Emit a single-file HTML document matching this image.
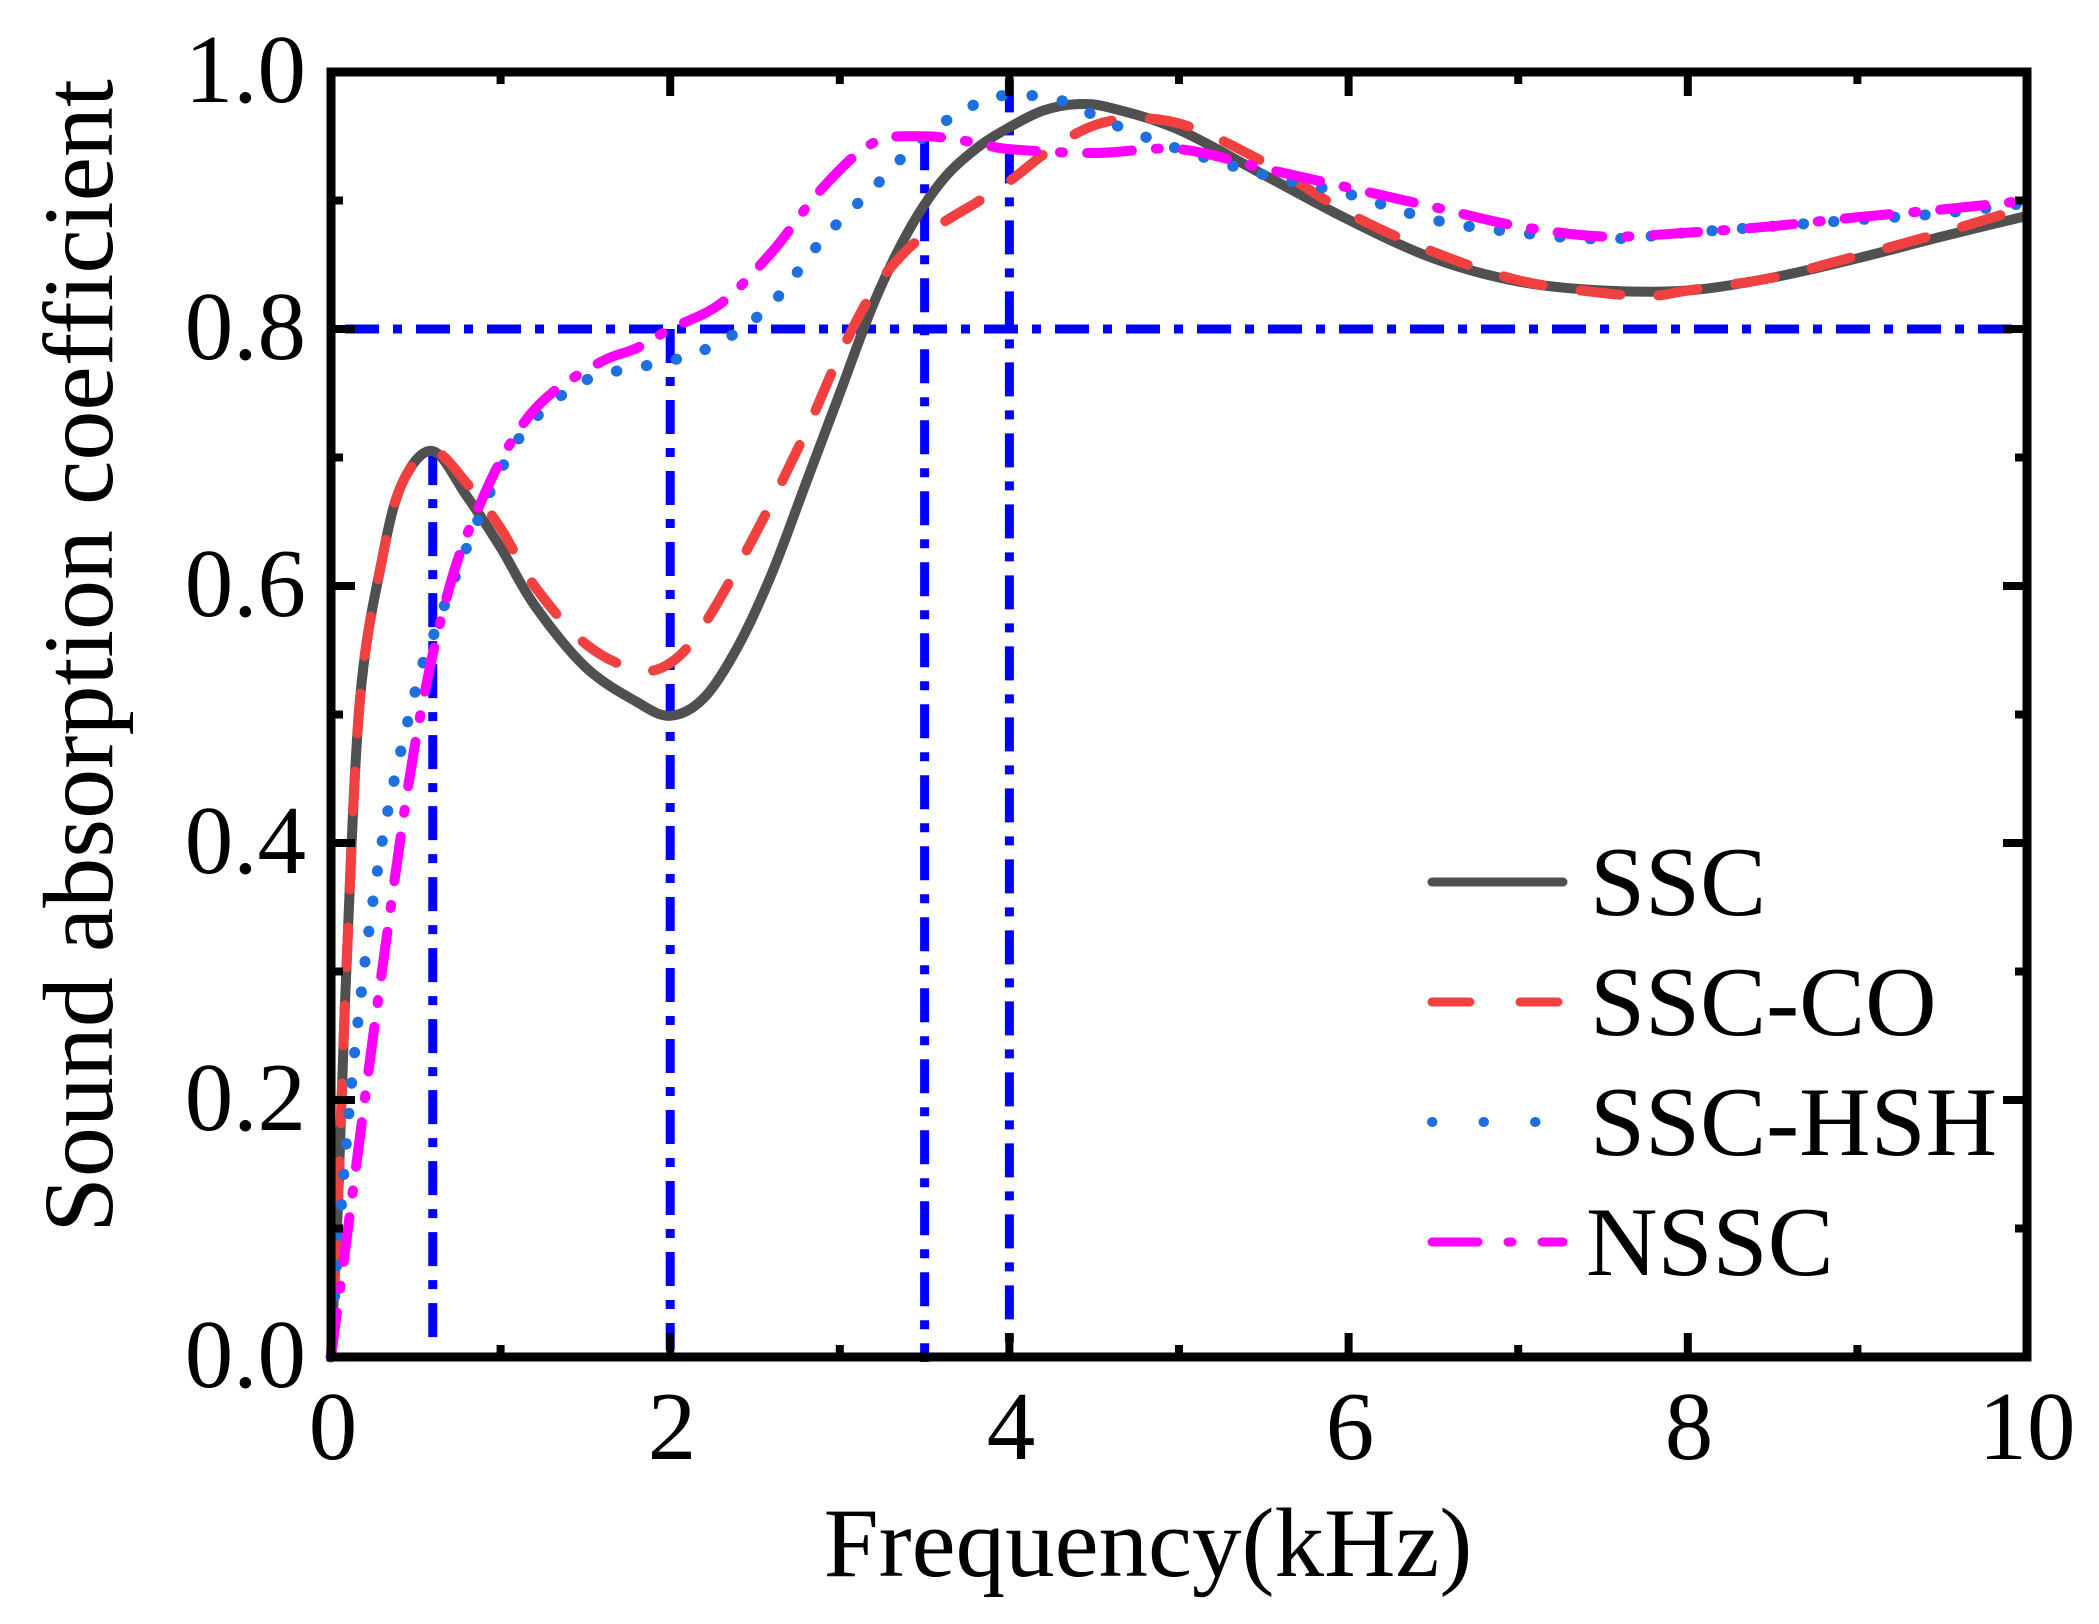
<!DOCTYPE html>
<html><head><meta charset="utf-8"><style>
html,body{margin:0;padding:0;background:#fff;}
svg{display:block;}
text{font-family:"Liberation Serif",serif;fill:#000;}
</style></head><body>
<svg id="s" width="2099" height="1624" viewBox="0 0 2099 1624" xmlns="http://www.w3.org/2000/svg">
<g id="plot"></g>
<g id="axes" fill="none" stroke="#000"></g>
<g font-size="97">
<text x="306" y="1387" text-anchor="end">0.0</text>
<text x="306" y="1130" text-anchor="end">0.2</text>
<text x="306" y="873" text-anchor="end">0.4</text>
<text x="306" y="616" text-anchor="end">0.6</text>
<text x="306" y="359" text-anchor="end">0.8</text>
<text x="306" y="102" text-anchor="end">1.0</text>
<text x="333" y="1459" text-anchor="middle">0</text>
<text x="672" y="1459" text-anchor="middle">2</text>
<text x="1011" y="1459" text-anchor="middle">4</text>
<text x="1350" y="1459" text-anchor="middle">6</text>
<text x="1689" y="1459" text-anchor="middle">8</text>
<text x="2027" y="1459" text-anchor="middle">10</text>
</g>
<text x="1148" y="1576" font-size="99" text-anchor="middle">Frequency(kHz)</text>
<text transform="translate(112,656) rotate(-90)" font-size="100" text-anchor="middle">Sound absorption coefficient</text>
<g font-size="99">
<line x1="1432" y1="882" x2="1563" y2="882" stroke="#505050" stroke-width="9" stroke-linecap="round"/>
<text x="1590" y="915">SSC</text>
<line x1="1432" y1="1002" x2="1563" y2="1002" stroke="#F04040" stroke-width="9" stroke-linecap="round" stroke-dasharray="38 50"/>
<text x="1590" y="1035">SSC-CO</text>
<line x1="1432" y1="1122" x2="1563" y2="1122" stroke="#1E6FE0" stroke-width="10" stroke-linecap="round" stroke-dasharray="0.5 51"/>
<text x="1590" y="1155">SSC-HSH</text>
<line x1="1432" y1="1242" x2="1563" y2="1242" stroke="#FF00FF" stroke-width="9" stroke-linecap="round" stroke-dasharray="46 30 4 30"/>
<text x="1586" y="1275">NSSC</text>
</g>
</svg>
<script>
var X0=331,X1=2027,Y0=1357,Y1=72;
function px(f){return X0+(X1-X0)*f/10;}
function py(v){return Y0-(Y0-Y1)*v;}
function path(pts){
  var p=pts.map(function(a){return [px(a[0]),py(a[1])];});
  var d="M"+p[0][0].toFixed(1)+","+p[0][1].toFixed(1);
  for(var i=0;i<p.length-1;i++){
    var p0=p[i-1]||p[i],p1=p[i],p2=p[i+1],p3=p[i+2]||p[i+1];
    var c1=[p1[0]+(p2[0]-p0[0])/6,p1[1]+(p2[1]-p0[1])/6];
    var c2=[p2[0]-(p3[0]-p1[0])/6,p2[1]-(p3[1]-p1[1])/6];
    d+="C"+c1[0].toFixed(1)+","+c1[1].toFixed(1)+" "+c2[0].toFixed(1)+","+c2[1].toFixed(1)+" "+p2[0].toFixed(1)+","+p2[1].toFixed(1);
  }
  return d;
}
var ssc=[[0,0],[0.04,0.115],[0.09,0.3],[0.17,0.51],[0.3,0.62],[0.42,0.68],[0.6,0.705],[0.8,0.67],[1.0,0.63],[1.2,0.585],[1.5,0.537],[1.8,0.51],[2.0,0.499],[2.2,0.513],[2.4,0.553],[2.6,0.61],[2.8,0.68],[3.0,0.75],[3.2,0.82],[3.4,0.875],[3.6,0.915],[3.8,0.94],[4.0,0.957],[4.2,0.97],[4.4,0.975],[4.6,0.972],[5.0,0.955],[5.5,0.92],[6.0,0.885],[6.5,0.855],[7.0,0.837],[7.5,0.83],[8.0,0.83],[8.5,0.84],[9.0,0.855],[9.5,0.872],[10,0.888]];
var co=[[0,0],[0.04,0.115],[0.09,0.3],[0.17,0.51],[0.3,0.62],[0.42,0.68],[0.6,0.705],[0.8,0.68],[1.0,0.645],[1.2,0.6],[1.5,0.555],[1.8,0.535],[2.0,0.54],[2.2,0.57],[2.5,0.64],[2.8,0.72],[3.0,0.78],[3.2,0.83],[3.4,0.862],[3.6,0.882],[3.8,0.898],[4.0,0.915],[4.3,0.945],[4.6,0.962],[5.0,0.96],[5.5,0.93],[6.0,0.89],[6.5,0.86],[7.0,0.838],[7.5,0.828],[7.8,0.826],[8.0,0.83],[8.5,0.84],[9,0.857],[9.5,0.875],[10,0.895]];
var hsh=[[0,0],[0.05,0.1],[0.15,0.25],[0.3,0.4],[0.5,0.52],[0.6,0.56],[0.8,0.63],[1.0,0.69],[1.2,0.73],[1.5,0.76],[1.8,0.77],[2.0,0.775],[2.3,0.79],[2.6,0.82],[2.9,0.87],[3.2,0.91],[3.5,0.95],[3.8,0.975],[4.0,0.982],[4.3,0.978],[4.6,0.96],[5.0,0.94],[5.5,0.92],[6.0,0.905],[6.5,0.885],[7,0.875],[7.5,0.87],[8,0.875],[8.5,0.88],[9,0.885],[9.5,0.89],[10,0.898]];
var ns=[[0,0],[0.1,0.1],[0.3,0.3],[0.5,0.48],[0.7,0.6],[0.9,0.67],[1.1,0.72],[1.3,0.75],[1.6,0.775],[1.8,0.785],[2.0,0.8],[2.3,0.82],[2.6,0.86],[2.9,0.91],[3.2,0.945],[3.5,0.95],[3.8,0.945],[4.0,0.94],[4.5,0.937],[5.0,0.94],[5.5,0.925],[6.0,0.91],[6.5,0.895],[7.0,0.88],[7.5,0.872],[8.0,0.875],[8.5,0.88],[9,0.887],[9.5,0.893],[10,0.9]];
var g=document.getElementById("plot"),h="";
var dd='stroke="#0000FF" stroke-width="9" stroke-dasharray="34 14 9 14" fill="none"';
h+='<line x1="345" y1="'+py(0.8)+'" x2="2024" y2="'+py(0.8)+'" '+dd+'/>';
h+='<line x1="'+px(0.6)+'" y1="'+py(0.705)+'" x2="'+px(0.6)+'" y2="1350" '+dd+'/>';
h+='<line x1="'+px(2.0)+'" y1="'+py(0.8)+'" x2="'+px(2.0)+'" y2="1350" '+dd+'/>';
h+='<line x1="'+px(3.5)+'" y1="'+py(0.95)+'" x2="'+px(3.5)+'" y2="1362" '+dd+'/>';
h+='<line x1="'+px(4.0)+'" y1="'+py(0.995)+'" x2="'+px(4.0)+'" y2="1350" '+dd+'/>';
h+='<path d="'+path(ssc)+'" fill="none" stroke="#505050" stroke-width="10"/>';
h+='<path d="'+path(co)+'" fill="none" stroke="#F04040" stroke-width="10" stroke-linecap="round" stroke-dasharray="40 38"/>';
h+='<path d="'+path(hsh)+'" fill="none" stroke="#1E6FE0" stroke-width="11" stroke-linecap="round" stroke-dasharray="0.5 30"/>';
h+='<path d="'+path(ns)+'" fill="none" stroke="#FF00FF" stroke-width="10" stroke-linecap="round" stroke-dasharray="45 24 3 24"/>';
g.innerHTML=h;
var a="",ax=document.getElementById("axes");
a+='<rect x="'+X0+'" y="'+Y1+'" width="'+(X1-X0)+'" height="'+(Y0-Y1)+'" stroke-width="9"/>';
for(var i=1;i<10;i++){var L=i%2?12:24,x=px(i);
 a+='<line x1="'+x+'" y1="'+Y0+'" x2="'+x+'" y2="'+(Y0-L)+'" stroke-width="8"/>';
 a+='<line x1="'+x+'" y1="'+Y1+'" x2="'+x+'" y2="'+(Y1+L)+'" stroke-width="8"/>';}
for(var j=1;j<10;j++){var L2=j%2?12:24,y=py(j/10);
 a+='<line x1="'+X0+'" y1="'+y+'" x2="'+(X0+L2)+'" y2="'+y+'" stroke-width="8"/>';
 a+='<line x1="'+X1+'" y1="'+y+'" x2="'+(X1-L2)+'" y2="'+y+'" stroke-width="8"/>';}
ax.innerHTML=a;
</script>
</body></html>
